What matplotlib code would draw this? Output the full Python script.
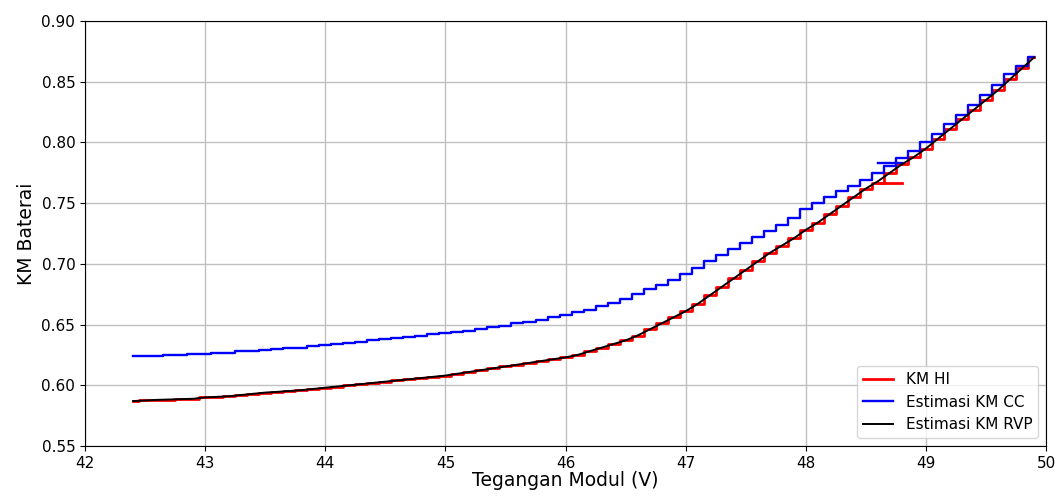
import numpy as np
import matplotlib
matplotlib.use("Agg")
import matplotlib.pyplot as plt

# voltage grid, 0.1 V steps
tegangan = np.round(np.arange(42.4, 49.95, 0.1), 1)

km_rvp = [0.587, 0.5875, 0.588, 0.5883, 0.5886, 0.5889, 0.590, 0.5905, 0.591, 0.592,
          0.593, 0.594, 0.5946, 0.5953, 0.596, 0.597, 0.598, 0.599, 0.600, 0.601,
          0.602, 0.603, 0.604, 0.605, 0.606, 0.607, 0.608, 0.6095, 0.611, 0.6125,
          0.614, 0.6155, 0.617, 0.6185, 0.620, 0.6215, 0.623, 0.625, 0.628, 0.631,
          0.634, 0.637, 0.641, 0.646, 0.651, 0.656, 0.661, 0.667, 0.674, 0.681,
          0.688, 0.695, 0.702, 0.709, 0.715, 0.721, 0.728, 0.734, 0.741, 0.748,
          0.755, 0.762, 0.768, 0.775, 0.782, 0.788, 0.795, 0.803, 0.811, 0.819,
          0.827, 0.835, 0.843, 0.852, 0.861, 0.870]

km_cc = [0.624, 0.624, 0.6245, 0.625, 0.625, 0.6255, 0.626, 0.6265, 0.627, 0.628,
         0.6285, 0.629, 0.630, 0.6305, 0.631, 0.632, 0.633, 0.634, 0.635, 0.636,
         0.637, 0.638, 0.639, 0.640, 0.641, 0.642, 0.643, 0.644, 0.645, 0.6465,
         0.648, 0.649, 0.651, 0.652, 0.654, 0.656, 0.658, 0.660, 0.662, 0.665,
         0.668, 0.671, 0.675, 0.679, 0.683, 0.687, 0.692, 0.697, 0.702, 0.707,
         0.712, 0.717, 0.722, 0.727, 0.732, 0.738, 0.745, 0.750, 0.755, 0.760,
         0.764, 0.769, 0.775, 0.781, 0.787, 0.793, 0.800, 0.807, 0.815, 0.823,
         0.831, 0.839, 0.847, 0.856, 0.863, 0.870]

km_hi = [0.587, 0.5875, 0.588, 0.5883, 0.5886, 0.5889, 0.590, 0.5905, 0.591, 0.592,
         0.593, 0.594, 0.5946, 0.5953, 0.596, 0.597, 0.598, 0.599, 0.600, 0.601,
         0.602, 0.603, 0.604, 0.605, 0.606, 0.607, 0.608, 0.6095, 0.611, 0.6125,
         0.614, 0.6155, 0.617, 0.6185, 0.620, 0.6215, 0.623, 0.625, 0.628, 0.631,
         0.634, 0.637, 0.641, 0.646, 0.651, 0.656, 0.661, 0.667, 0.674, 0.681,
         0.688, 0.695, 0.702, 0.709, 0.715, 0.721, 0.728, 0.734, 0.741, 0.748,
         0.755, 0.762, 0.767, 0.775, 0.782, 0.788, 0.795, 0.803, 0.811, 0.819,
         0.827, 0.835, 0.843, 0.852, 0.861, 0.870]

# small backward hooks seen around 48.6-48.8 V
hi_hook_x = [48.6, 48.8]
hi_hook_y = [0.767, 0.767]
cc_hook_x = [48.6, 48.8]
cc_hook_y = [0.783, 0.783]

fig = plt.figure(figsize=(10.55, 4.97), dpi=100)
ax = fig.add_axes([0.0806, 0.1026, 0.9109, 0.8551])

ax.plot(tegangan, km_hi, "r-", drawstyle="steps-mid", lw=2.0, label="KM HI")
ax.plot(hi_hook_x, hi_hook_y, "r-", lw=2.0)
ax.plot(tegangan, km_cc, "b-", drawstyle="steps-mid", lw=1.7, label="Estimasi KM CC")
ax.plot(cc_hook_x, cc_hook_y, "b-", lw=1.7)
ax.plot(tegangan, km_rvp, "k-", lw=1.4, label="Estimasi KM RVP")

ax.set_xlim(42, 50)
ax.set_ylim(0.55, 0.90)
ax.set_yticks(np.arange(0.55, 0.901, 0.05))
ax.set_yticklabels(["%.2f" % v for v in np.arange(0.55, 0.901, 0.05)])
ax.tick_params(labelsize=11)
ax.set_xlabel("Tegangan Modul (V)", fontsize=13.5, labelpad=0)
ax.set_ylabel("KM Baterai", fontsize=13.5)
ax.grid(True, color="#c0c0c0", lw=1)
ax.legend(loc="lower right", fontsize=11)

fig.savefig("out.png", dpi=100)
